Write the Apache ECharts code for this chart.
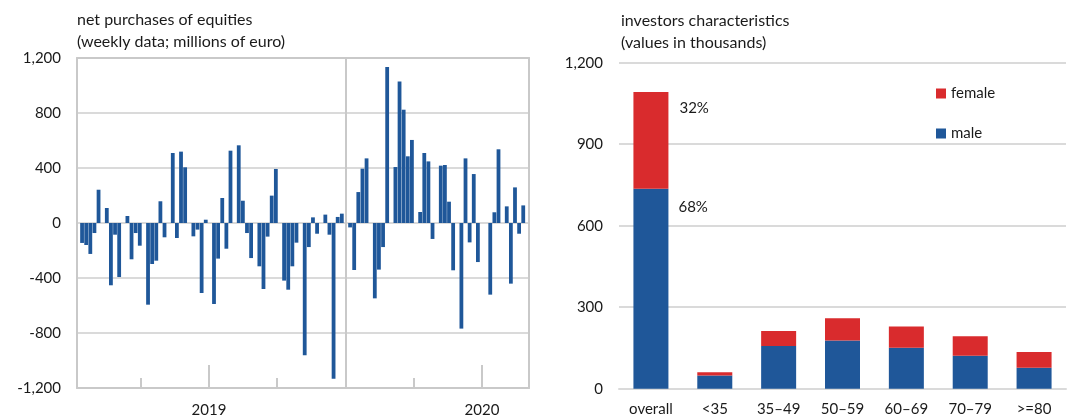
<!DOCTYPE html>
<html>
<head>
<meta charset="utf-8">
<script src="https://cdn.jsdelivr.net/npm/echarts@6/dist/echarts.min.js"></script>
<style>
  html, body { margin: 0; padding: 0; background: #ffffff; }
  #chart { width: 1074px; height: 418px; }
</style>
</head>
<body>
<div id="chart"></div>
<script>
// ---------- DATA ----------
// Left panel: weekly net purchases of equities (millions of euro)
const weeklyFlows = [
  -145, -160, -225, -73, 242, 0, 109, -453, -85, -393, 0, 51, -264, -73, -165, 0, -594, -298,
  -274, 158, -104, 0, 509, -109, 519, 405, 0, -97, -48, -509, 24, 0, -589, -259, 182, -187,
  526, 0, 565, 162, -73, -255, 0, -315, -480, -99, 199, 393, 0, -419, -485, -315, -143, 0, -962,
  -175, 41, -78, 0, 61, -85, -1132, 44, 68, 0, -32, -342, 225, 395, 470, 0, -548, -339,
  -175, 1134, 0, 407, 1030, 824, 485, 604, 0, 80, 509, 448, -116, 0, 417, 422, 155, -344,
  0, -768, 470, -141, 356, -284, 0, 0, -521, 78, 536, 0, 121, -441, 259, -78, 128
];
const weekCategories = weeklyFlows.map((_, i) => 'w' + (i + 1));
const dividerWeek = 'w65';            // start of 2020
// time axis in months since Jan 2019
const quarterTicks = [3, 9, 12, 15];
const yearTicks = [6, 18];
const yearLabels = ['2019', '2020'];

// Right panel: investors characteristics (thousands)
const ageGroups = ['overall', '<35', '35–49', '50–59', '60–69', '70–79', '>=80'];
const maleValues = [736, 49, 157, 177, 151, 121, 77];
const femaleValues = [356, 12, 55, 82, 78, 72, 58];
const shareLabels = { male: '68%', female: '32%' };

// ---------- STYLE ----------
const FONT = 'Lato';
const TXT = '#1a1a1a';
const BLUE = '#1f5799';
const RED = '#d92b2d';
const GRID_LINE = '#dadada';
const FRAME = '#c9c9c9';

const fmt = v => {
  const s = Math.abs(v).toString().replace(/\B(?=(\d{3})+(?!\d))/g, ',');
  return (v < 0 ? '-' : '') + s;
};

const chart = echarts.init(document.getElementById('chart'), null, { renderer: 'canvas' });

const frameAxisX = (position) => ({
  gridIndex: 1, type: 'value', min: 0.198, max: 20.066, position: position,
  axisLine: { show: true, onZero: false, lineStyle: { color: FRAME, width: 2 } },
  axisTick: { show: false }, axisLabel: { show: false }, splitLine: { show: false }
});

const option = {
  animation: false,
  backgroundColor: '#ffffff',
  textStyle: { fontFamily: FONT, color: TXT },
  title: [
    {
      text: 'net purchases of equities\n(weekly data; millions of euro)',
      left: 77, top: 9, padding: 0,
      textStyle: { fontFamily: FONT, fontSize: 16, fontWeight: 'normal', color: TXT, lineHeight: 22 }
    },
    {
      text: 'investors characteristics\n(values in thousands)',
      left: 621, top: 10, padding: 0,
      textStyle: { fontFamily: FONT, fontSize: 16, fontWeight: 'normal', color: TXT, lineHeight: 22 }
    }
  ],
  legend: {
    data: ['female', 'male'],
    orient: 'vertical',
    left: 931, top: 81,
    itemWidth: 10, itemHeight: 10,
    itemGap: 25,
    icon: 'rect',
    textStyle: { fontFamily: FONT, fontSize: 15, color: TXT }
  },
  grid: [
    // 0: bars of left panel
    { left: 80, top: 58, width: 445.3, height: 330 },
    // 1: frame + axes of left panel
    { left: 77, top: 58, width: 452, height: 330 },
    // 2: right panel
    { left: 619, top: 62.7, width: 447, height: 326 }
  ],
  xAxis: [
    {
      gridIndex: 0, type: 'category', data: weekCategories,
      axisLine: { show: false }, axisTick: { show: false }, axisLabel: { show: false }, splitLine: { show: false }
    },
    {
      gridIndex: 1, type: 'value', min: 0.198, max: 20.066, position: 'bottom',
      axisLine: { show: true, onZero: false, lineStyle: { color: FRAME, width: 2 } },
      axisTick: { show: true, inside: true, length: 10, customValues: quarterTicks, lineStyle: { color: FRAME, width: 2 } },
      axisLabel: { show: false },
      splitLine: { show: false }
    },
    {
      gridIndex: 1, type: 'value', min: 0.198, max: 20.066, position: 'bottom', offset: 0,
      axisLine: { show: false, onZero: false },
      axisTick: { show: true, inside: true, length: 23, customValues: yearTicks, lineStyle: { color: FRAME, width: 2 } },
      axisLabel: {
        show: true, customValues: yearTicks, margin: 15,
        formatter: v => yearLabels[yearTicks.indexOf(v)],
        fontFamily: FONT, fontSize: 15, color: TXT
      },
      splitLine: { show: false }
    },
    frameAxisX('top'),
    {
      gridIndex: 2, type: 'category', data: ageGroups,
      axisLine: { show: true, lineStyle: { color: GRID_LINE, width: 2 } },
      axisTick: { show: false },
      axisLabel: { margin: 13, fontFamily: FONT, fontSize: 15, color: TXT },
      splitLine: { show: false }
    }
  ],
  yAxis: [
    {
      gridIndex: 0, type: 'value', min: -1200, max: 1200, interval: 400,
      axisLine: { show: false }, axisTick: { show: false }, axisLabel: { show: false }, splitLine: { show: false }
    },
    {
      gridIndex: 1, type: 'value', min: -1200, max: 1200, interval: 400, position: 'left',
      axisLine: { show: true, onZero: false, lineStyle: { color: FRAME, width: 2 } },
      axisTick: { show: false },
      axisLabel: { margin: 16, formatter: fmt, fontFamily: FONT, fontSize: 15, color: TXT },
      splitLine: { show: true, lineStyle: { color: GRID_LINE, width: 2 } }
    },
    {
      gridIndex: 1, type: 'value', min: -1200, max: 1200, interval: 400, position: 'right',
      axisLine: { show: true, onZero: false, lineStyle: { color: FRAME, width: 2 } },
      axisTick: { show: false }, axisLabel: { show: false }, splitLine: { show: false }
    },
    {
      gridIndex: 2, type: 'value', min: 0, max: 1200, interval: 300,
      axisLine: { show: false }, axisTick: { show: false },
      axisLabel: { margin: 16, formatter: fmt, fontFamily: FONT, fontSize: 15, color: TXT },
      splitLine: { show: true, lineStyle: { color: GRID_LINE, width: 2 } }
    }
  ],
  series: [
    {
      name: 'net purchases', type: 'bar',
      xAxisIndex: 0, yAxisIndex: 0,
      data: weeklyFlows,
      barCategoryGap: '8%',
      itemStyle: { color: BLUE },
      z: 3,
      markLine: {
        silent: true, symbol: ['none', 'none'],
        label: { show: false },
        lineStyle: { color: FRAME, type: 'solid', width: 2 },
        data: [{ xAxis: dividerWeek }],
        z: 1
      }
    },
    {
      name: 'male', type: 'bar', stack: 'investors',
      xAxisIndex: 4, yAxisIndex: 3,
      barWidth: 35,
      itemStyle: { color: BLUE },
      data: maleValues.map((v, i) => i === 0 ? {
        value: v,
        label: {
          show: true, formatter: shareLabels.male, position: [45, 18],
          align: 'left', verticalAlign: 'middle',
          fontFamily: FONT, fontSize: 15, color: TXT
        }
      } : v)
    },
    {
      name: 'female', type: 'bar', stack: 'investors',
      xAxisIndex: 4, yAxisIndex: 3,
      barWidth: 35,
      itemStyle: { color: RED },
      data: femaleValues.map((v, i) => i === 0 ? {
        value: v,
        label: {
          show: true, formatter: shareLabels.female, position: [46, 16],
          align: 'left', verticalAlign: 'middle',
          fontFamily: FONT, fontSize: 15, color: TXT
        }
      } : v)
    }
  ]
};

chart.setOption(option);
</script>
</body>
</html>
